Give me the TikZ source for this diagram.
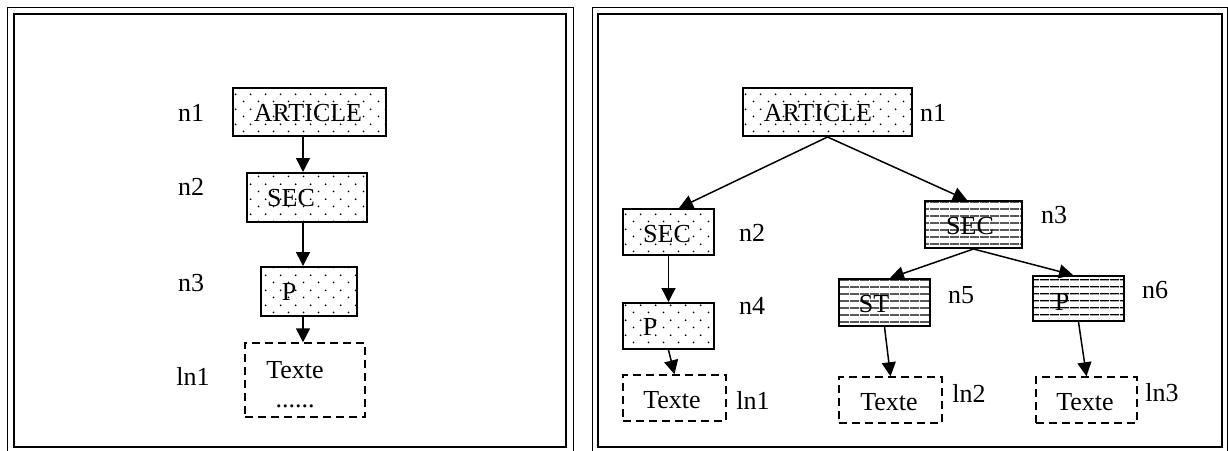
\documentclass[tikz,border=0pt]{standalone}
\usepackage{fontspec}
\setmainfont{Liberation Serif}
\usetikzlibrary{arrows.meta,patterns}
\pgfdeclarepatternformonly{mydots}{\pgfqpoint{0pt}{0pt}}{\pgfqpoint{15pt}{15pt}}{\pgfqpoint{15pt}{15pt}}{%
  \pgfpathcircle{\pgfqpoint{3.75pt}{3.75pt}}{1pt}%
  \pgfpathcircle{\pgfqpoint{11.25pt}{11.25pt}}{1pt}%
  \pgfusepath{fill}}
\pgfdeclarepatternformonly{myhlines}{\pgfqpoint{0pt}{0pt}}{\pgfqpoint{10pt}{7pt}}{\pgfqpoint{10pt}{7pt}}{%
  \pgfpathrectangle{\pgfqpoint{0pt}{2.8pt}}{\pgfqpoint{10pt}{1.4pt}}%
  \pgfusepath{fill}}
\tikzset{
  boxbase/.style={draw, line width=2pt, inner sep=0pt},
  dotbox/.style={boxbase, pattern=mydots, pattern color=black},
  hbox/.style={boxbase, pattern=myhlines},
  txtbox/.style={draw, line width=1.5pt, dash pattern=on 8pt off 5pt, inner sep=0pt},
  arr/.style={line width=1.5pt, -{Triangle[length=14pt,width=14pt]}},
  lbl/.style={inner sep=0pt},
  outerframe/.style={line width=1pt},
  innerframe/.style={line width=2pt},
}
\begin{document}
\begin{tikzpicture}[x=1pt,y=-1pt,font=\fontsize{26}{30}\selectfont]
\useasboundingbox (0,0) rectangle (1228,450);
% frames
\draw[outerframe] (7,7) rectangle (573,470);
\draw[innerframe] (14,14) rectangle (566,447);
\draw[outerframe] (592,7) rectangle (1227.5,470);
\draw[innerframe] (598,14) rectangle (1222,447);

% ---------- left panel ----------
\node[dotbox, minimum width=153pt, minimum height=48pt] (La) at (309.5,112) {};
\node[dotbox, minimum width=120pt, minimum height=49pt] (Ls) at (307,197.5) {};
\node[dotbox, minimum width=96pt, minimum height=49pt] (Lp) at (309,291.5) {};
\node[txtbox, minimum width=120pt, minimum height=74pt] (Lt) at (305,380) {};
\node[lbl] (Lat) at (308,113) {ARTICLE};
\node[lbl] (Lst) at (291,198) {SEC};
\node[lbl] (Lpt) at (289,292) {P};
\node[lbl] (Ltt) at (295,370) {Texte};
\node[lbl, anchor=base] (Ltd) at (295,407) {......};
\node[lbl] (Ln1) at (191,113) {n1};
\node[lbl] (Ln2) at (191,187) {n2};
\node[lbl] (Ln3) at (191,283) {n3};
\node[lbl] (Lln1) at (193,376) {ln1};
\coordinate (cL) at (303,0);
\draw[arr] (La.south -| cL) -- (Ls.north -| cL);
\draw[arr] (Ls.south -| cL) -- (Lp.north -| cL);
\draw[arr] (Lp.south -| cL) -- (Lt.north -| cL);

% ---------- right panel ----------
\node[dotbox, minimum width=169pt, minimum height=48pt] (Ra) at (827.5,112) {};
\node[dotbox, minimum width=91pt, minimum height=46pt] (Rs2) at (668.5,232) {};
\node[dotbox, minimum width=91pt, minimum height=46pt] (Rp4) at (668.5,326) {};
\node[txtbox, minimum width=103pt, minimum height=46pt] (Rt1) at (674.5,398) {};
\node[hbox, minimum width=97pt, minimum height=47pt] (Rs3) at (973.5,224.5) {};
\node[hbox, minimum width=91pt, minimum height=47pt] (Rst5) at (884.5,302.5) {};
\node[hbox, minimum width=91pt, minimum height=45pt] (Rp6) at (1078.5,298.5) {};
\node[txtbox, minimum width=103pt, minimum height=46pt] (Rt2) at (890.5,400) {};
\node[txtbox, minimum width=101pt, minimum height=46pt] (Rt3) at (1086.5,400) {};

\node[lbl] (Rat) at (818,113.5) {ARTICLE};
\node[lbl] (Rs2t) at (667,234) {SEC};
\node[lbl] (Rp4t) at (650,327) {P};
\node[lbl] (Rt1t) at (672,400) {Texte};
\node[lbl] (Rs3t) at (970,226) {SEC};
\node[lbl] (Rst5t) at (874,304) {ST};
\node[lbl] (Rp6t) at (1062,302) {P};
\node[lbl] (Rt2t) at (889,402) {Texte};
\node[lbl] (Rt3t) at (1085,402) {Texte};

\node[lbl] (Rn1) at (933,113) {n1};
\node[lbl] (Rn2) at (752,233) {n2};
\node[lbl] (Rn4) at (752,306) {n4};
\node[lbl] (Rln1) at (753,400) {ln1};
\node[lbl] (Rn3) at (1054,215) {n3};
\node[lbl] (Rn5) at (961,295) {n5};
\node[lbl] (Rn6) at (1155,290) {n6};
\node[lbl] (Rln2) at (969,393) {ln2};
\node[lbl] (Rln3) at (1162,393) {ln3};

\coordinate (c679) at (679,0);
\coordinate (c967) at (967,0);
\coordinate (c890) at (890,0);
\coordinate (c1073) at (1073,0);
\draw[arr] (Ra.south) -- (Rs2.north -| c679);
\draw[arr] (Ra.south) -- (Rs3.north -| c967);
\draw[arr] (Rs2.south) -- (Rp4.north);
\draw[arr] (Rp4.south) -- (Rt1.north);
\draw[arr] (Rs3.south) -- (Rst5.north -| c890);
\draw[arr] (Rs3.south) -- (Rp6.north -| c1073);
\draw[arr] (Rst5.south) -- (Rt2.north);
\draw[arr] (Rp6.south) -- (Rt3.north);
\end{tikzpicture}
\end{document}
